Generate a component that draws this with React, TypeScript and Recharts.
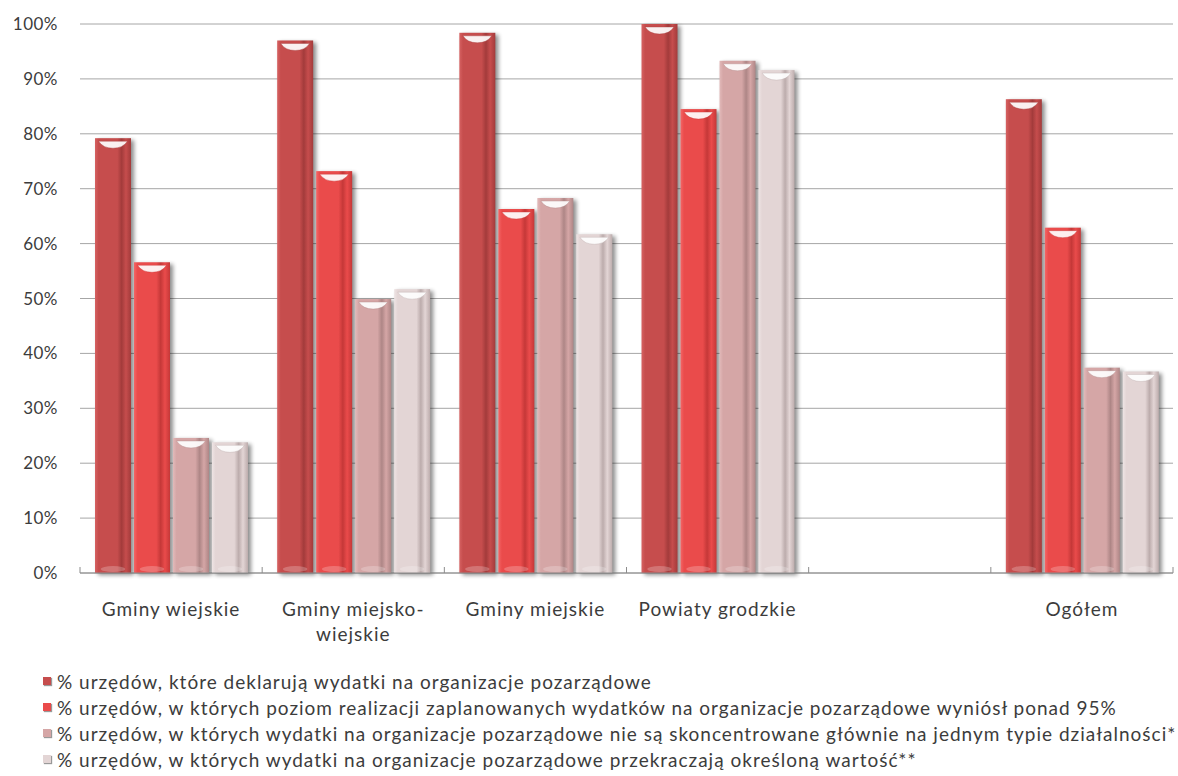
import { Bar, BarChart, CartesianGrid, Legend, XAxis, YAxis } from 'recharts'

// Udział urzędów wg typu samorządu (%)
const CATEGORIES = ['Gminy wiejskie', 'Gminy miejsko-\nwiejskie', 'Gminy miejskie', 'Powiaty grodzkie', '', 'Ogółem']
const DEKLARUJA = [79.2, 97.0, 98.4, 100, null, 86.3]
const REALIZACJA_95 = [56.6, 73.2, 66.3, 84.5, null, 62.9]
const NIESKONCENTROWANE = [24.6, 49.9, 68.3, 93.3, null, 37.4]
const PRZEKRACZAJA = [23.8, 51.7, 61.7, 91.6, null, 36.7]
const Y_TICKS = [0, 10, 20, 30, 40, 50, 60, 70, 80, 90, 100]

const SERIES_NAMES = [
  '% urzędów, które deklarują wydatki na organizacje pozarządowe',
  '% urzędów, w których poziom realizacji zaplanowanych wydatków na organizacje pozarządowe wyniósł ponad 95%',
  '% urzędów, w których wydatki na organizacje pozarządowe nie są skoncentrowane głównie na jednym typie działalności*',
  '% urzędów, w których wydatki na organizacje pozarządowe przekraczają określoną wartość**',
]

// base / light edge / dark stripe for the cylinder look
const BASE = ['#c64d4d', '#ea4b4b', '#d5a6a6', '#e3d5d5']
const LIGHT = ['#d66262', '#f46666', '#e2baba', '#eee4e4']
const DARK = ['#a33b3b', '#c53838', '#ae8686', '#bcacac']

const TEXT = '#3c3c3c'
const FONT = 'Lato, "Open Sans", sans-serif'

const data = CATEGORIES.map((name, i) => ({
  name,
  s0: DEKLARUJA[i],
  s1: REALIZACJA_95[i],
  s2: NIESKONCENTROWANE[i],
  s3: PRZEKRACZAJA[i],
}))

function CylinderBar(props: any) {
  const { x, y, width: w, height: h, idx } = props
  if (!h || h <= 0) return null
  const top = `M${x + w * 0.1},${y + 3} L${x + w * 0.9},${y + 3} Q${x + w * 0.78},${y + 10} ${x + w / 2},${y + 10} Q${x + w * 0.22},${y + 10} ${x + w * 0.1},${y + 3} Z`
  return (
    <g>
      <rect x={x + 3} y={y + 2} width={w} height={h} fill="#000" opacity={0.45} filter="url(#barShadow)" />
      <rect x={x} y={y} width={w} height={h} fill={`url(#cyl${idx})`} />
      <path d={top} fill="#fff" opacity={0.92} stroke={DARK[idx]} strokeOpacity={0.5} strokeWidth={0.8} />
      <ellipse cx={x + w / 2} cy={y + h - 4} rx={w * 0.34} ry={3} fill="#fff" opacity={0.22} />
    </g>
  )
}

function CategoryTick(props: any) {
  const { x, y, payload, width, visibleTicksCount, index } = props
  const bw = width && visibleTicksCount ? width / visibleTicksCount : 0
  const lines = String(payload.value).split('\n')
  return (
    <g>
      {bw > 0 && <line x1={x - bw / 2} x2={x - bw / 2} y1={y - 6} y2={y} stroke="#8c8c8c" />}
      {bw > 0 && index === visibleTicksCount - 1 && <line x1={x + bw / 2} x2={x + bw / 2} y1={y - 6} y2={y} stroke="#8c8c8c" />}
      <text x={x} y={y + 43} textAnchor="middle" fill={TEXT} fontSize={19} fontFamily={FONT} letterSpacing={1}>
        {lines.map((l, i) => (
          <tspan key={i} x={x} dy={i === 0 ? 0 : 25}>
            {l}
          </tspan>
        ))}
      </text>
    </g>
  )
}

function LegendBox() {
  return (
    <div style={{ height: 108, fontFamily: FONT, fontSize: 19, color: TEXT, letterSpacing: 1 }}>
      {SERIES_NAMES.map((n, i) => (
        <div key={n} style={{ height: 26, display: 'flex', alignItems: 'center', paddingLeft: 43, whiteSpace: 'nowrap' }}>
          <span style={{ width: 8, height: 8, background: BASE[i], boxShadow: '1px 1px 1px #999', marginRight: 6, flex: 'none' }} />
          <span>{n}</span>
        </div>
      ))}
    </div>
  )
}

export default function App() {
  return (
    <div style={{ position: 'absolute', left: 0, top: 0, background: '#fff' }}>
      <BarChart width={1178} height={776} data={data} margin={{ top: 24, right: 5, bottom: 0, left: 0 }} barSize={36} barGap={3}>
        <defs>
          <filter id="barShadow" x="-30%" y="-10%" width="160%" height="120%">
            <feGaussianBlur stdDeviation="2" />
          </filter>
          {BASE.map((c, i) => (
            <linearGradient key={i} id={`cyl${i}`} x1="0" y1="0" x2="1" y2="0">
              <stop offset="0" stopColor={LIGHT[i]} />
              <stop offset="0.1" stopColor={c} />
              <stop offset="0.62" stopColor={c} />
              <stop offset="0.74" stopColor={DARK[i]} />
              <stop offset="0.86" stopColor={c} />
              <stop offset="1" stopColor={DARK[i]} />
            </linearGradient>
          ))}
        </defs>
        <CartesianGrid vertical={false} stroke="#a6a6a6" />
        <XAxis
          dataKey="name"
          interval={0}
          height={95}
          tickLine={false}
          tickSize={0}
          tickMargin={0}
          axisLine={{ stroke: '#8c8c8c' }}
          tick={<CategoryTick />}
        />
        <YAxis
          width={80}
          domain={[0, 100]}
          ticks={Y_TICKS}
          tickFormatter={(v) => v + '%'}
          axisLine={false}
          tickLine={false}
          tickSize={0}
          tickMargin={22}
          tick={{ fill: TEXT, fontSize: 17, fontFamily: FONT, letterSpacing: 0.5 }}
        />
        <Legend verticalAlign="bottom" align="left" content={<LegendBox />} wrapperStyle={{ left: 0, bottom: 0 }} />
        {['s0', 's1', 's2', 's3'].map((k, i) => (
          <Bar key={k} dataKey={k} name={SERIES_NAMES[i]} fill={BASE[i]} isAnimationActive={false} shape={(p: any) => <CylinderBar {...p} idx={i} />} />
        ))}
      </BarChart>
    </div>
  )
}
